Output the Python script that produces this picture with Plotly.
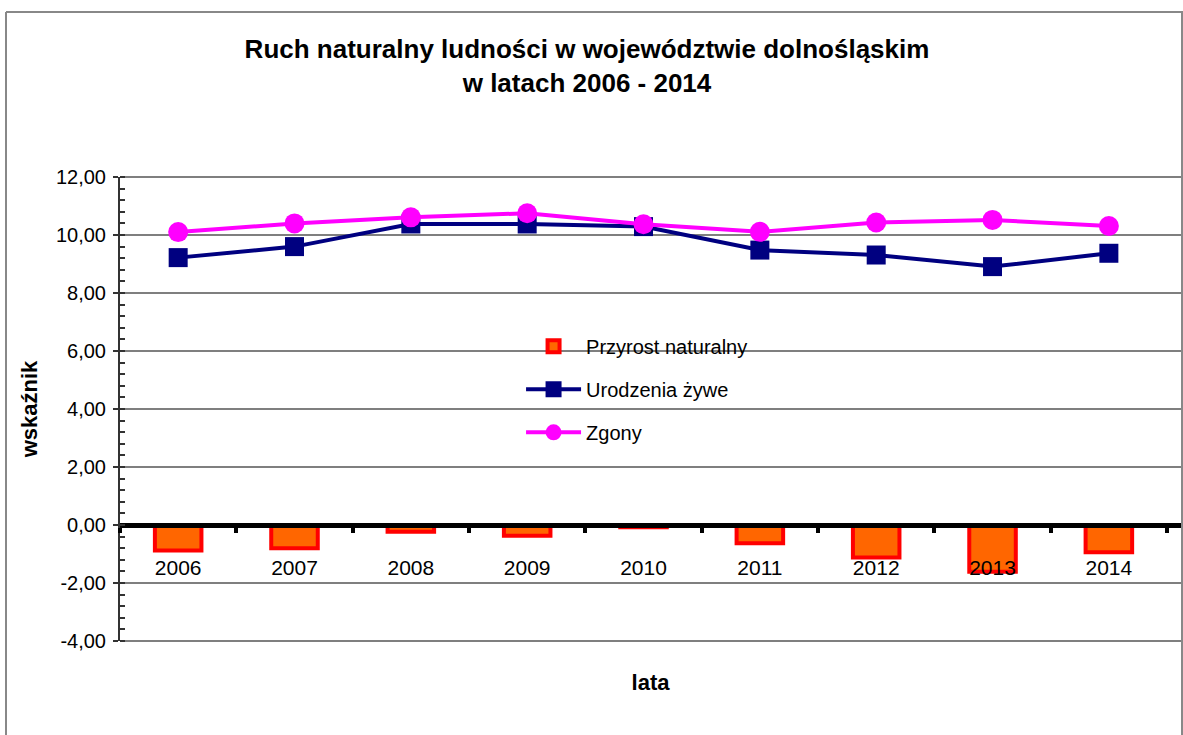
import plotly.graph_objects as go

years = ["2006", "2007", "2008", "2009", "2010", "2011", "2012", "2013", "2014"]
przyrost = [-0.88, -0.80, -0.23, -0.37, -0.08, -0.63, -1.12, -1.61, -0.94]
urodzenia = [9.22, 9.60, 10.38, 10.38, 10.29, 9.48, 9.31, 8.91, 9.37]
zgony = [10.10, 10.40, 10.61, 10.75, 10.37, 10.11, 10.43, 10.52, 10.31]
y_ticks = [-4, -2, 0, 2, 4, 6, 8, 10, 12]
y_tick_labels = ["-4,00", "-2,00", "0,00", "2,00", "4,00", "6,00", "8,00", "10,00", "12,00"]

FONT = "Liberation Sans, Arial, sans-serif"
PW, PH = 1061, 464  # plot area size in px

fig = go.Figure()
fig.add_trace(go.Bar(
    x=years, y=przyrost, name="Przyrost naturalny",
    marker=dict(color="#FF6600", line=dict(color="#FF0000", width=4)),
    legendgroup="a",
))
fig.add_trace(go.Scatter(
    x=years, y=urodzenia, name="Urodzenia żywe", mode="lines+markers",
    line=dict(color="#000080", width=4),
    marker=dict(symbol="square", size=19, color="#000080"),
    legendgroup="b",
))
fig.add_trace(go.Scatter(
    x=years, y=zgony, name="Zgony", mode="lines+markers",
    line=dict(color="#FF00FF", width=4),
    marker=dict(symbol="circle", size=20, color="#FF00FF"),
    legendgroup="c",
))

fig.update_layout(
    width=1183, height=735,
    margin=dict(l=120, r=2, t=177, b=94),
    paper_bgcolor="white", plot_bgcolor="white",
    separators=", ",
    font=dict(family=FONT, size=18, color="black"),
    bargap=0.6,
    showlegend=True,
    title=dict(
        text="<b>Ruch naturalny ludności w województwie dolnośląskim<br>w latach 2006 - 2014</b>",
        x=(587 - 120) / PW, xref="paper", xanchor="center", y=1 - 58 / 735, yanchor="top",
        font=dict(family=FONT, size=26, color="black"),
    ),
    legend=dict(
        x=0.378, y=0.677, xanchor="left", yanchor="top",
        font=dict(family=FONT, size=20, color="black"),
        bgcolor="rgba(0,0,0,0)", traceorder="grouped", tracegroupgap=14,
        itemwidth=55,
    ),
    xaxis=dict(
        type="category", range=[-0.5, 8.62],
        anchor="free", position=0.25,
        showline=True, linecolor="black", linewidth=5, layer="above traces",
        ticks="outside", tickson="boundaries", ticklen=5, tickwidth=4, tickcolor="black",
        ticklabelstandoff=22,
        tickfont=dict(family=FONT, size=21, color="black"),
        showgrid=False, zeroline=False,
        title=dict(text="<b>lata</b>", font=dict(family=FONT, size=22), standoff=96),
    ),
    yaxis=dict(
        range=[-4, 12], tickvals=y_ticks, ticktext=y_tick_labels,
        domain=[0, 1],
        showline=True, linecolor="#333333", linewidth=2, layer="above traces",
        ticks="outside", ticklen=5, tickwidth=2, tickcolor="#333333",
        ticklabelstandoff=3,
        minor=dict(ticks="inside", dtick=0.4, ticklen=5, tickwidth=2, tickcolor="#333333", showgrid=False),
        showgrid=True, gridcolor="#7f7f7f", gridwidth=1.5,
        zeroline=False,
        tickfont=dict(family=FONT, size=20, color="black"),
        title=dict(text="<b>wskaźnik</b>", font=dict(family=FONT, size=22), standoff=12),
    ),
)

# plot-area frame lines (top and bottom edges of the plotting domain)
for yd in (0, 1):
    fig.add_shape(type="line", xref="x domain", yref="y domain",
                  x0=0, x1=1, y0=yd, y1=yd, layer="below",
                  line=dict(color="#7f7f7f", width=2))

# outer chart border
top = (641 - 12) / PH
left = (6 - 120) / PW
right = (1182 - 120) / PW
bottom = -94 / PH
fig.add_shape(type="line", xref="paper", yref="paper",
              x0=left, x1=left, y0=bottom, y1=top, line=dict(color="#888888", width=2))
fig.add_shape(type="line", xref="paper", yref="paper",
              x0=left, x1=right + 0.01, y0=top, y1=top, line=dict(color="#888888", width=2))
fig.add_shape(type="line", xref="paper", yref="paper",
              x0=right, x1=right, y0=bottom, y1=top, line=dict(color="#888888", width=2))

fig.write_html("out.html", config={"displayModeBar": False},
               post_script="document.body.style.margin='0px';")
